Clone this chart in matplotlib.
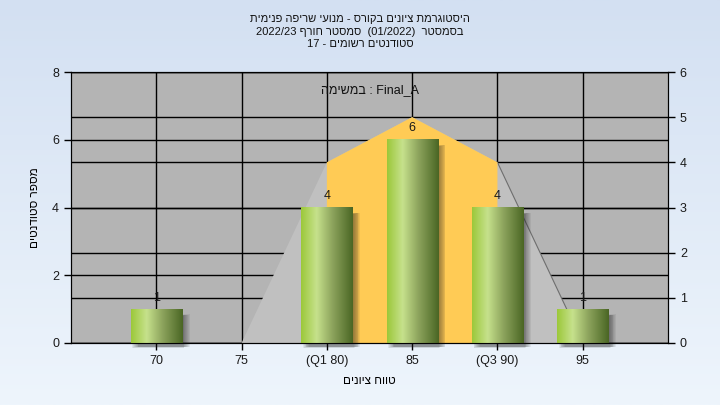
import numpy as np
import matplotlib.pyplot as plt
from matplotlib.colors import LinearSegmentedColormap
from matplotlib.patches import Rectangle, Polygon

# data
grades = [70, 80, 85, 90, 95]
counts = [1, 4, 6, 4, 1]
tick_pos = [70, 75, 80, 85, 90, 95]
tick_labels = ['70', '75', '(Q1 80)', '85', '(Q3 90)', '95']
curve_x = [75, 80, 85, 90, 95]
curve_y = [0, 4, 5, 4, 0]          # right axis
q1, q3 = 80, 90

# hebrew strings are given in visual (left-to-right drawn) order
title = ('תימינפ הפירש יעונמ - סרוקב םינויצ תמרגוטסיה\n'
         '2022/23 ףרוח רטסמס  (01/2022)  רטסמסב\n'
         '17 - םימושר םיטנדוטס')
task_label = 'המישמב : Final_A'
ylabel = 'םיטנדוטס רפסמ'
xlabel = 'םינויצ חווט'

plt.rcParams['font.family'] = ['Liberation Sans', 'DejaVu Sans']

fig = plt.figure(figsize=(7.2, 4.05), dpi=100)

# figure background gradient
bg = fig.add_axes([0, 0, 1, 1], zorder=-10)
bg_cmap = LinearSegmentedColormap.from_list('bg', ['#d3e0f2', '#eef5fc'])
bg.imshow(np.linspace(0, 1, 256).reshape(-1, 1), cmap=bg_cmap, aspect='auto',
          extent=(0, 1, 0, 1))
bg.axis('off')

ax = fig.add_axes([0.0986, 0.1531, 0.8292, 0.6691])
ax.set_facecolor('#b4b4b4')
ax.set_xlim(65, 100)
ax.set_ylim(0, 8)
ax2 = ax.twinx()
ax2.set_ylim(0, 6)

ax.set_xticks(tick_pos)
ax.set_xticklabels(tick_labels)
ax.set_yticks([0, 2, 4, 6, 8])
ax2.set_yticks(range(7))

for a in (ax, ax2):
    a.tick_params(labelsize=9, length=5, width=1, color='black', labelcolor='#1a1a1a')
    for s in a.spines.values():
        s.set_color('black')

# grid lines (both y scales), drawn below the curve area
for v in tick_pos:
    ax.axvline(v, color='black', lw=1, zorder=0.5)
for v in [0, 2, 4, 6, 8]:
    ax.axhline(v, color='black', lw=1, zorder=0.5)
for v in range(7):
    ax.axhline(v * 8 / 6, color='black', lw=1, zorder=0.5)

# normal-curve area (right scale, converted to left scale)
scale = 8 / 6
pts = [(x, y * scale) for x, y in zip(curve_x, curve_y)]
ax.add_patch(Polygon(pts, closed=True, facecolor='#c0c0c0', edgecolor='none', zorder=1))
mid = [(x, y * scale) for x, y in zip(curve_x, curve_y) if q1 <= x <= q3]
ax.add_patch(Polygon([(q1, 0)] + mid + [(q3, 0)], closed=True,
                     facecolor='#ffcb55', edgecolor='none', zorder=1.5))
ax.plot([curve_x[3], curve_x[4]], [curve_y[3] * scale, curve_y[4] * scale],
        color='#6e6e6e', lw=0.8, zorder=1.2)

# gradient bars with soft shadow
bar_cmap = LinearSegmentedColormap.from_list(
    'bar', [(0, '#9cc83a'), (0.3, '#c6e18c'), (0.6, '#8ea55e'), (1, '#4a6624')])
grad = np.linspace(0, 1, 200).reshape(1, -1)
w = 3
for g, c in zip(grades, counts):
    for k in np.linspace(0.1, 0.45, 8):
        ax.add_patch(Rectangle((g - w / 2 + k, -0.15 + k * 0.1), w, c - 0.05, facecolor='#202020',
                               edgecolor='none', alpha=0.07, zorder=2, clip_on=False))
    ax.imshow(grad, cmap=bar_cmap, aspect='auto', extent=(g - w / 2, g + w / 2, 0, c),
              zorder=3)
    ax.annotate(str(c), (g, c), xytext=(0, 4), textcoords='offset points',
                ha='center', va='bottom', fontsize=9, color='#1a1a1a', zorder=4)

ax.set_xlim(65, 100)
ax.set_ylim(0, 8)

ax.text(0.5, 0.955, task_label, transform=ax.transAxes, ha='center', va='top',
        fontsize=9, color='#111111')

fig.text(0.5, 0.965, title, ha='center', va='top', fontsize=8, color='#111111',
         linespacing=1.3)
ax.set_ylabel(ylabel, fontsize=8.5, labelpad=8)
ax.set_xlabel(xlabel, fontsize=8.5, labelpad=6)

fig.savefig('out.png', dpi=100)
